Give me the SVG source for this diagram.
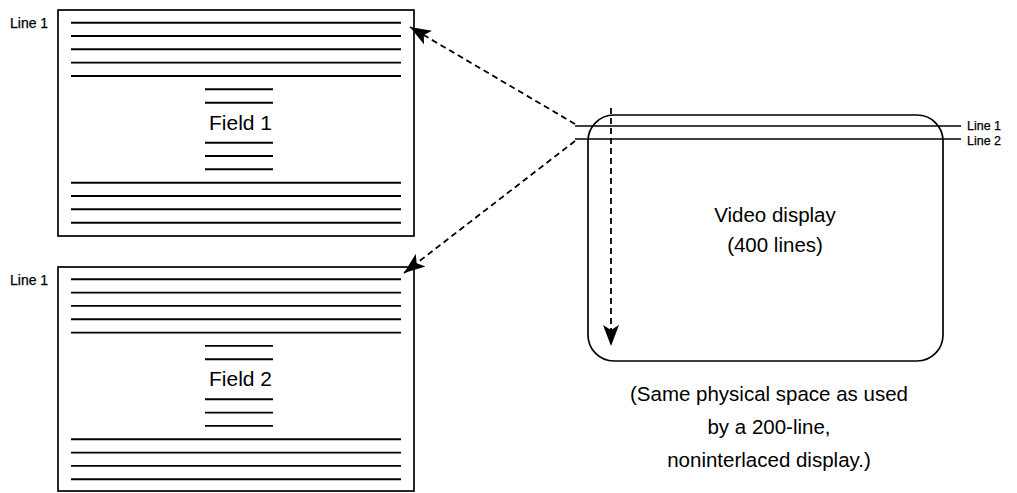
<svg xmlns="http://www.w3.org/2000/svg" width="1017" height="493" viewBox="0 0 1017 493">
<defs>
<style>
.box{fill:none;stroke:#000;stroke-width:1.7}
.ln{stroke:#000;stroke-width:1.9}
.scan{stroke:#000;stroke-width:1.5}
.dash{fill:none;stroke:#000;stroke-width:1.8;stroke-dasharray:6 4}
.sm{font-family:"Liberation Sans",Arial,sans-serif;font-size:14px;fill:#000;stroke:#000;stroke-width:0.25}
.rs{font-size:12.5px}
.lg{font-family:"Liberation Sans",Arial,sans-serif;font-size:20.5px;fill:#000}
</style>
<marker id="ah" markerUnits="userSpaceOnUse" markerWidth="24" markerHeight="18" refX="21" refY="9" orient="auto">
<path d="M0,1 L21,9 L0,17 L5,9 Z" fill="#000"/>
</marker>
<g id="fieldLines">
<line class="ln" x1="71" y1="22.7" x2="401" y2="22.7"/>
<line class="ln" x1="71" y1="36" x2="401" y2="36"/>
<line class="ln" x1="71" y1="49.3" x2="401" y2="49.3"/>
<line class="ln" x1="71" y1="62.6" x2="401" y2="62.6"/>
<line class="ln" x1="71" y1="76" x2="401" y2="76"/>
<line class="ln" x1="205" y1="89.3" x2="273" y2="89.3"/>
<line class="ln" x1="205" y1="102.7" x2="273" y2="102.7"/>
<line class="ln" x1="205" y1="142.7" x2="273" y2="142.7"/>
<line class="ln" x1="205" y1="156" x2="273" y2="156"/>
<line class="ln" x1="205" y1="169.3" x2="273" y2="169.3"/>
<line class="ln" x1="71" y1="182.7" x2="401" y2="182.7"/>
<line class="ln" x1="71" y1="196" x2="401" y2="196"/>
<line class="ln" x1="71" y1="209.3" x2="401" y2="209.3"/>
<line class="ln" x1="71" y1="222.7" x2="401" y2="222.7"/>
</g>
</defs>
<rect width="1017" height="493" fill="#fff"/>
<g id="field1">
<rect class="box" x="58" y="10" width="356" height="226"/>
<use href="#fieldLines"/>
<text class="sm" x="10" y="28">Line 1</text>
<text class="lg" x="209" y="130" style="font-size:21px">Field 1</text>
</g>
<g id="field2">
<rect class="box" x="58" y="267" width="356" height="224"/>
<use href="#fieldLines" y="256.6"/>
<text class="sm" x="10" y="285">Line 1</text>
<text class="lg" x="209" y="386" style="font-size:21px">Field 2</text>
</g>
<g id="display">
<rect class="box" x="588" y="115" width="355" height="246" rx="26" ry="26"/>
<line class="scan" x1="575" y1="126" x2="961" y2="126"/>
<line class="scan" x1="575" y1="139" x2="961" y2="139"/>
<text class="sm rs" x="967" y="129.5">Line 1</text>
<text class="sm rs" x="967" y="144.5">Line 2</text>
<text class="lg" x="775" y="222" text-anchor="middle">Video display</text>
<text class="lg" x="775" y="252" text-anchor="middle">(400 lines)</text>
</g>
<g id="caption">
<text class="lg" x="769" y="401" text-anchor="middle">(Same physical space as used</text>
<text class="lg" x="769" y="434" text-anchor="middle">by a 200-line,</text>
<text class="lg" x="769" y="467" text-anchor="middle">noninterlaced display.)</text>
</g>
<g id="connectors">
<line class="dash" x1="575" y1="124" x2="410" y2="27" marker-end="url(#ah)"/>
<line class="dash" x1="575" y1="141" x2="404" y2="273" marker-end="url(#ah)"/>
<line class="dash" x1="611" y1="108" x2="611" y2="346" marker-end="url(#ah)"/>
</g>
</svg>
